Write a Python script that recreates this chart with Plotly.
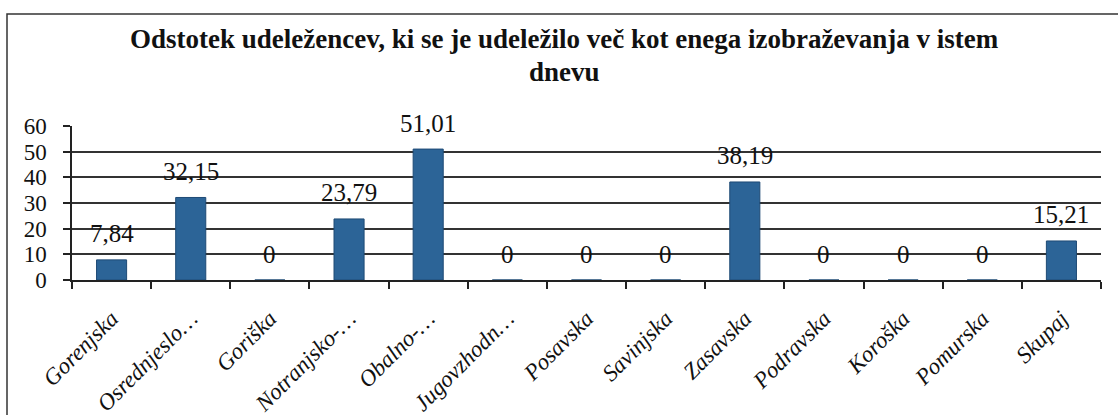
import plotly.graph_objects as go

categories = ["Gorenjska", "Osrednjeslo…", "Goriška", "Notranjsko-…", "Obalno-…",
              "Jugovzhodn…", "Posavska", "Savinjska", "Zasavska", "Podravska",
              "Koroška", "Pomurska", "Skupaj"]
values = [7.84, 32.15, 0, 23.79, 51.01, 0, 0, 0, 38.19, 0, 0, 0, 15.21]
value_labels = ["7,84", "32,15", "0", "23,79", "51,01", "0", "0", "0", "38,19", "0", "0", "0", "15,21"]
title_lines = ["Odstotek udeležencev, ki se je udeležilo več kot enega izobraževanja v istem", "dnevu"]
y_ticks = [0, 10, 20, 30, 40, 50, 60]

SERIF = "Liberation Serif"

# plot area in pixels: x 72..1101, y 126 (top) .. 280 (bottom)
PX_L, PX_R, PX_T, PX_B = 72, 1101, 126, 280


def px_to_paper_y(py):
    return (PX_B - py) / (PX_B - PX_T)


def px_to_paper_x(px):
    return (px - PX_L) / (PX_R - PX_L)


fig = go.Figure()
fig.add_trace(go.Bar(
    x=categories, y=values,
    marker=dict(color="#2C6497", line=dict(color="#1E4A75", width=1)),
    hoverinfo="skip",
))

for c, v, t in zip(categories, values, value_labels):
    fig.add_annotation(x=c, y=v, text=t, showarrow=False, xref="x", yref="y",
                       yanchor="middle", yshift=26,
                       font=dict(family=SERIF, size=25, color="#111"))

# title, two tightly spaced lines
for line, cy in zip(title_lines, [39, 72]):
    fig.add_annotation(x=px_to_paper_x(564), y=px_to_paper_y(cy), xref="paper", yref="paper",
                       text=line, showarrow=False, borderpad=0,
                       xanchor="center", yanchor="middle",
                       font=dict(family=SERIF, size=27, color="#111", weight="bold"))

fig.add_shape(type="rect", xref="paper", yref="paper",
              x0=px_to_paper_x(7), x1=px_to_paper_x(1200),
              y0=px_to_paper_y(600), y1=px_to_paper_y(14),
              line=dict(color="#333", width=1.5), layer="below")

fig.update_layout(
    width=1118, height=415,
    margin=dict(l=PX_L, r=1118 - PX_R, t=PX_T, b=415 - PX_B, pad=0),
    paper_bgcolor="white", plot_bgcolor="white",
    font=dict(family=SERIF),
    showlegend=False,
    bargap=0.62,
    xaxis=dict(type="category", showline=True, linecolor="#222", linewidth=2,
               ticks="outside", tickson="boundaries", ticklen=7, tickcolor="#222", tickwidth=1.5,
               tickangle=-45, showgrid=False, automargin=False,
               ticklabelstandoff=14,
               tickfont=dict(family=SERIF, size=23, color="#111", style="italic")),
    yaxis=dict(range=[0, 60], tickvals=y_ticks, showline=True, linecolor="#222", linewidth=1.5,
               ticks="outside", ticklen=7, tickcolor="#222", tickwidth=1.5,
               showgrid=True, gridcolor="#333", gridwidth=1.5, zeroline=False,
               ticklabelstandoff=12, automargin=False,
               tickfont=dict(family=SERIF, size=23, color="#111")),
)

fig.write_html("out.html", config={"displayModeBar": False},
               post_script="document.body.style.margin='0';")
